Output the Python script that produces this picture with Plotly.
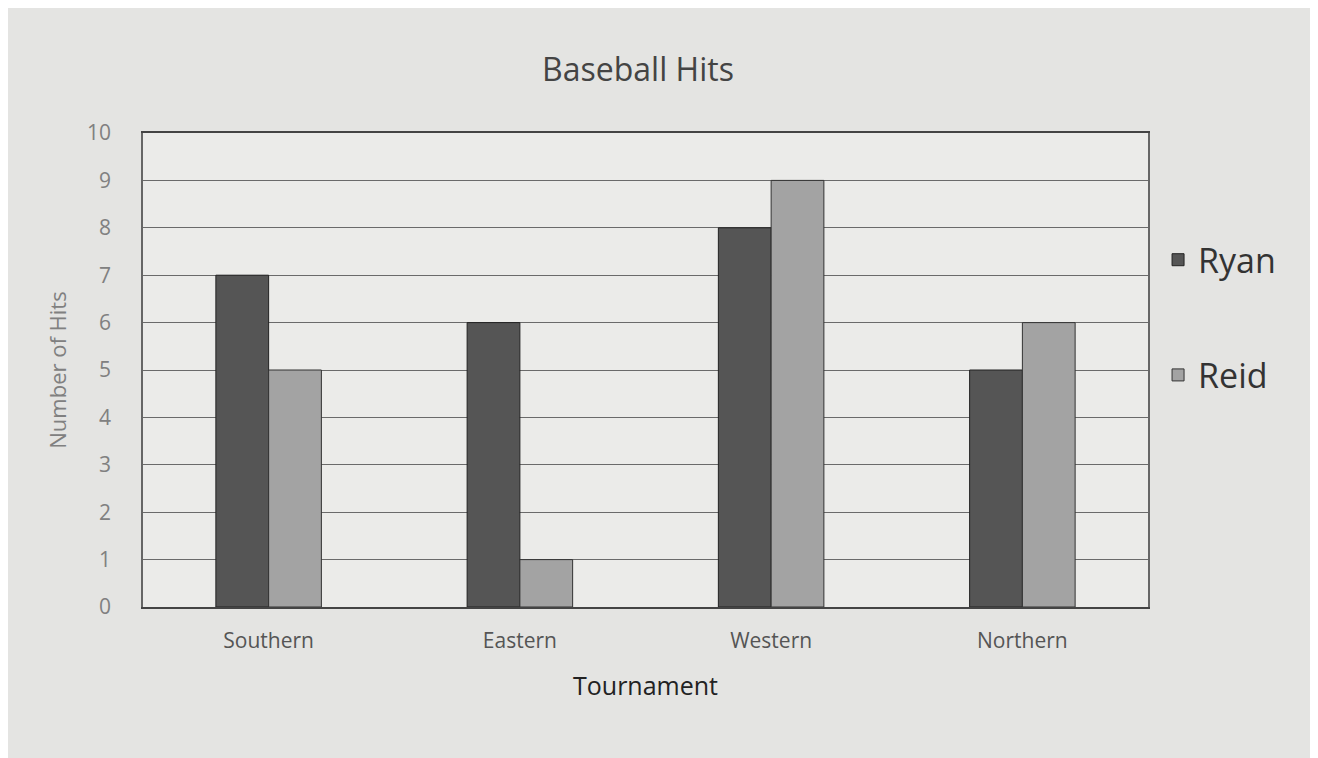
import plotly.graph_objects as go

TOURNAMENTS = ["Southern", "Eastern", "Western", "Northern"]
RYAN_HITS = [7, 6, 8, 5]
REID_HITS = [5, 1, 9, 6]

PAPER = "#e4e4e2"
PLOT_BG = "#ebebe9"
RYAN_COLOR = "#555555"
REID_COLOR = "#a3a3a3"
FONT = "Open Sans"

fig = go.Figure()
fig.add_trace(go.Bar(
    x=TOURNAMENTS, y=RYAN_HITS, name="Ryan", legendgroup="ryan",
    marker=dict(color=RYAN_COLOR, line=dict(color="#222222", width=1)),
))
fig.add_trace(go.Bar(
    x=TOURNAMENTS, y=REID_HITS, name="Reid", legendgroup="reid",
    marker=dict(color=REID_COLOR, line=dict(color="#333333", width=1)),
))

fig.update_layout(
    width=1318, height=758,
    paper_bgcolor=PAPER, plot_bgcolor=PLOT_BG,
    margin=dict(l=135, r=178, t=125, b=159),
    barmode="group", bargap=0.58, bargroupgap=0,
    font=dict(family=FONT, color="#555555"),
    title=dict(
        text="Baseball Hits", x=0.478, xanchor="center", y=0.918, yanchor="middle",
        font=dict(family=FONT, size=32, color="#444444"),
    ),
    legend=dict(
        x=1.01, y=0.793, xanchor="left", yanchor="top",
        font=dict(family=FONT, size=34, color="#333333"),
        tracegroupgap=68, bgcolor="rgba(0,0,0,0)",
    ),
)
fig.update_yaxes(
    range=[0, 10], dtick=1, showgrid=True, gridcolor="#6a6a6a", gridwidth=1,
    showline=True, linecolor="#666666", linewidth=1.5, mirror=True,
    ticks="", ticklabelstandoff=26, zeroline=False,
    tickfont=dict(family=FONT, size=21, color="#808080"),
    title=dict(text="Number of Hits", standoff=14,
               font=dict(family=FONT, size=22, color="#808080")),
)
fig.update_xaxes(
    showline=True, linecolor="#444444", linewidth=2, mirror=True,
    ticks="", ticklabelstandoff=14,
    tickfont=dict(family=FONT, size=21, color="#555555"),
    title=dict(text="Tournament", standoff=24,
               font=dict(family=FONT, size=25, color="#222222")),
)

fig.write_html("out.html")
